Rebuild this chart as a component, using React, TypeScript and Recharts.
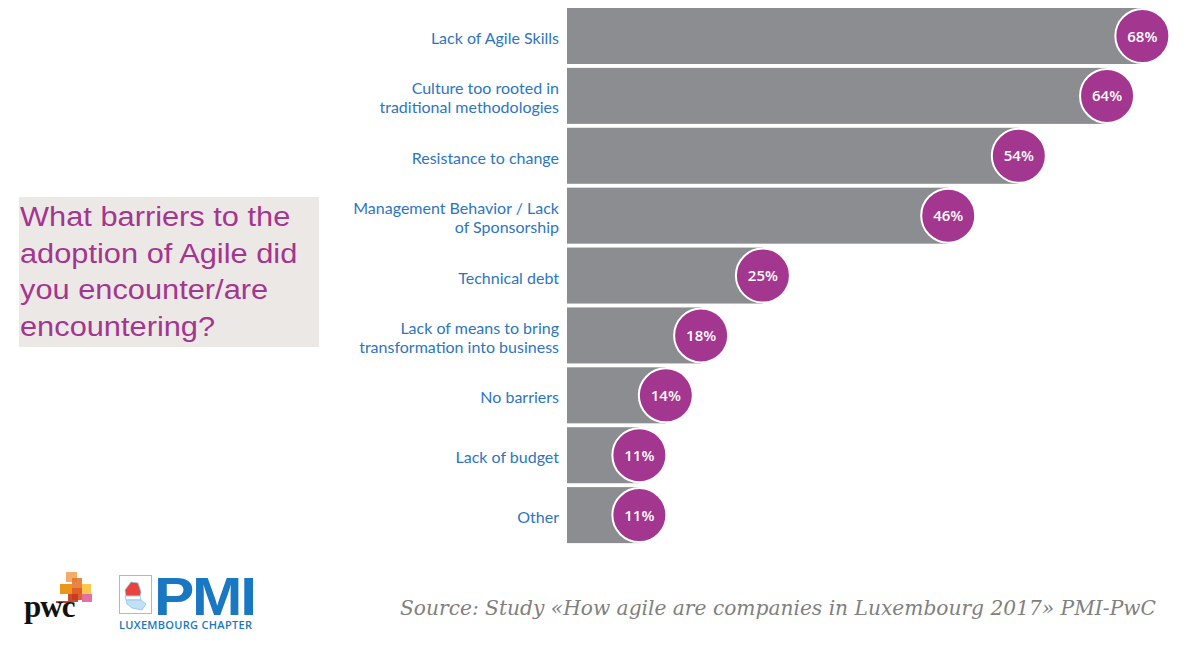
import React from "react";
import { BarChart, Bar, XAxis, YAxis } from "recharts";

const categories = [
  "Lack of Agile Skills",
  "Culture too rooted in\ntraditional methodologies",
  "Resistance to change",
  "Management Behavior / Lack\nof Sponsorship",
  "Technical debt",
  "Lack of means to bring\ntransformation into business",
  "No barriers",
  "Lack of budget",
  "Other",
];
const values = [68, 64, 54, 46, 25, 18, 14, 11, 11];

const data = categories.map((name, i) => ({ name, value: values[i] }));

const BAR = "#8c8d91";
const PURPLE = "#a3368f";
const BLUE = "#2e75c0";

function CategoryTick(props: any) {
  const { x, y, payload } = props;
  const lines: string[] = String(payload.value).split("\n");
  const lh = 19;
  const start = y + 8 - ((lines.length - 1) * lh) / 2;
  return (
    <text
      x={x}
      y={start}
      textAnchor="end"
      fill={BLUE}
      fontFamily="Lato, 'Open Sans', sans-serif"
      fontSize={16}
    >
      {lines.map((l, i) => (
        <tspan key={i} x={x} y={start + i * lh}>
          {l}
        </tspan>
      ))}
    </text>
  );
}

function BubbleBar(props: any) {
  const { x, y, width, height, payload } = props;
  const cx = x + width;
  const cy = y + height / 2;
  return (
    <g>
      <rect x={x} y={y} width={width} height={height} fill={BAR} />
      <circle cx={cx} cy={cy} r={27} fill={PURPLE} stroke="#fff" strokeWidth={2} />
      <text
        x={cx}
        y={cy + 5.5}
        textAnchor="middle"
        fill="#fff"
        fontFamily="'Open Sans', sans-serif"
        fontWeight={600}
        fontSize={15}
      >
        {payload.value}%
      </text>
    </g>
  );
}

function PwcLogo() {
  const blocks = [
    { l: 66, t: 572, w: 11, h: 10, c: "#f4a259" },
    { l: 72, t: 578, w: 10, h: 10, c: "#e8772e" },
    { l: 60, t: 584, w: 12, h: 10, c: "#eb8c00" },
    { l: 72, t: 588, w: 10, h: 12, c: "#dc4f14" },
    { l: 82, t: 584, w: 9, h: 10, c: "#f8c23a" },
    { l: 82, t: 594, w: 10, h: 8, c: "#e0609b" },
    { l: 68, t: 594, w: 10, h: 8, c: "#c8361b" },
  ];
  return (
    <>
      {blocks.map((b, i) => (
        <div
          key={i}
          style={{
            position: "absolute",
            left: b.l,
            top: b.t,
            width: b.w,
            height: b.h,
            background: b.c,
            opacity: 0.9,
          }}
        />
      ))}
      <div style={{ position: "absolute", left: 56, top: 601, width: 12, height: 2, background: "#d93915" }} />
      <div
        style={{
          position: "absolute",
          left: 24,
          top: 591,
          fontFamily: "'Liberation Serif', serif",
          fontWeight: 700,
          fontSize: 31,
          lineHeight: "32px",
          color: "#111",
          letterSpacing: -1,
        }}
      >
        pwc
      </div>
    </>
  );
}

function PmiLogo() {
  const blue = "#1a78c2";
  return (
    <>
      <div
        style={{
          position: "absolute",
          left: 119,
          top: 575,
          width: 33,
          height: 39,
          border: "1.5px solid #8ec3e8",
          boxSizing: "border-box",
        }}
      />
      <svg style={{ position: "absolute", left: 122, top: 580 }} width={28} height={32}>
        <path d="M9 2 L16 3 L19 12 L18 16 L4 16 L3 10 Z" fill="#e8433f" stroke="#8ec3e8" strokeWidth={0.8} />
        <path d="M3 16 L18 16 L19 20 L4 20 Z" fill="#fff" stroke="#8ec3e8" strokeWidth={0.8} />
        <path d="M4 20 L19 20 L24 24 L20 30 L10 28 L5 24 Z" fill="#bfe0f5" stroke="#8ec3e8" strokeWidth={0.8} />
      </svg>
      <div
        style={{
          position: "absolute",
          left: 154,
          top: 576,
          fontFamily: "'Liberation Sans', Arial, sans-serif",
          fontWeight: 700,
          fontSize: 54,
          lineHeight: "40px",
          color: blue,
          letterSpacing: -2,
          transform: "scaleX(1.12)",
          transformOrigin: "left",
        }}
      >
        PMI
      </div>
      <div
        style={{
          position: "absolute",
          left: 119,
          top: 618,
          fontFamily: "'Open Sans', sans-serif",
          fontWeight: 600,
          fontSize: 11,
          lineHeight: "14px",
          color: blue,
          letterSpacing: 0.3,
        }}
      >
        LUXEMBOURG CHAPTER
      </div>
    </>
  );
}

export default function App() {
  return (
    <div
      style={{
        position: "absolute",
        left: 0,
        top: 0,
        width: 1200,
        height: 649,
        background: "#fff",
        overflow: "hidden",
      }}
    >
      <div
        style={{
          position: "absolute",
          left: 19,
          top: 197,
          width: 300,
          height: 150,
          background: "#ece8e6",
        }}
      />
      <div
        style={{
          position: "absolute",
          left: 20,
          top: 199,
          width: 270,
          fontFamily: "'Liberation Sans', Arial, sans-serif",
          fontSize: 27,
          lineHeight: "36.5px",
          color: PURPLE,
          whiteSpace: "nowrap",
          transform: "scaleX(1.14)",
          transformOrigin: "left",
        }}
      >
        What barriers to the
        <br />
        adoption of Agile did
        <br />
        you encounter/are
        <br />
        encountering?
      </div>

      <div style={{ position: "absolute", left: 0, top: 0 }}>
        <BarChart
          width={1200}
          height={649}
          layout="vertical"
          data={data}
          margin={{ top: 6, right: 10, bottom: 104, left: 0 }}
          barCategoryGap={2}
        >
          <XAxis type="number" domain={[2.8, 73.4]} allowDataOverflow hide />
          <YAxis
            type="category"
            dataKey="name"
            width={567}
            axisLine={false}
            tickLine={false}
            tickSize={0}
            tickMargin={8}
            interval={0}
            tick={<CategoryTick />}
          />
          <Bar dataKey="value" isAnimationActive={false} shape={<BubbleBar />} />
        </BarChart>
      </div>

      <PwcLogo />
      <PmiLogo />

      <div
        style={{
          position: "absolute",
          left: 400,
          top: 596,
          fontFamily: "'DejaVu Serif', Georgia, serif",
          fontStyle: "italic",
          fontSize: 20.2,
          color: "#808080",
          whiteSpace: "nowrap",
        }}
      >
        Source: Study «How agile are companies in Luxembourg 2017» PMI-PwC
      </div>
    </div>
  );
}
